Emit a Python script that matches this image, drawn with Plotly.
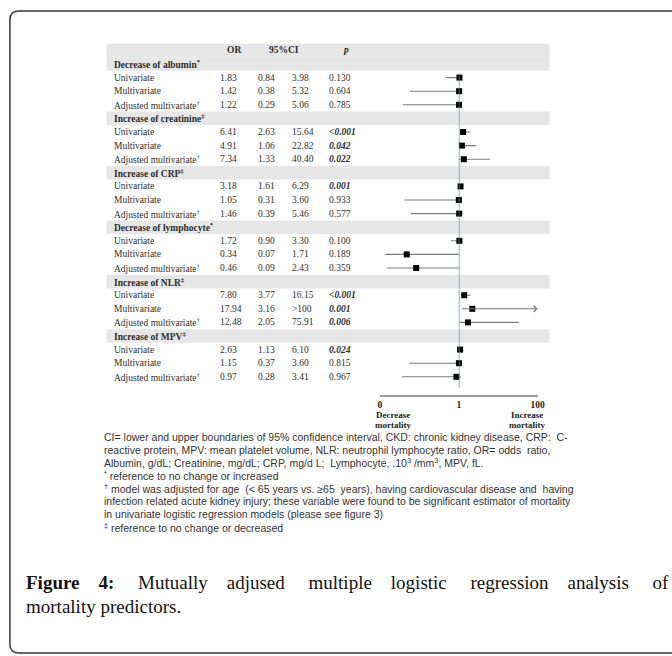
import plotly.graph_objects as go

# ---- data -----------------------------------------------------------------
groups = ["Decrease of albumin", "Increase of creatinine", "Increase of CRP",
          "Decrease of lymphocyte", "Increase of NLR", "Increase of MPV"]
group_marks = ["*", "‡", "‡", "*", "‡", "‡"]
models = ["Univariate", "Multivariate", "Adjusted multivariate"]
model_marks = ["", "", "†"]

odds_ratio = [1.83, 1.42, 1.22,
              6.41, 4.91, 7.34,
              3.18, 1.05, 1.46,
              1.72, 0.34, 0.46,
              7.80, 17.94, 12.48,
              2.63, 1.15, 0.97]
ci_low = [0.84, 0.38, 0.29,
          2.63, 1.06, 1.33,
          1.61, 0.31, 0.39,
          0.90, 0.07, 0.09,
          3.77, 3.16, 2.05,
          1.13, 0.37, 0.28]
ci_high = [3.98, 5.32, 5.06,
           15.64, 22.82, 40.40,
           6.29, 3.60, 5.46,
           3.30, 1.71, 2.43,
           16.15, None, 75.91,   # None = upper bound beyond 100
           6.10, 3.60, 3.41]
p_values = ["0.130", "0.604", "0.785",
            "<0.001", "0.042", "0.022",
            "0.001", "0.933", "0.577",
            "0.100", "0.189", "0.359",
            "<0.001", "0.001", "0.006",
            "0.024", "0.815", "0.967"]

axis_ticks = [0, 1, 100]
axis_ticktext = ["0", "1", "100"]

footnotes = [
    "CI= lower and upper boundaries of 95% confidence interval, CKD: chronic kidney disease, CRP: C-",
    "reactive protein, MPV: mean platelet volume, NLR: neutrophil lymphocyte ratio, OR= odds ratio,",
    "Albumin, g/dL; Creatinine, mg/dL; CRP, mg/d L;  Lymphocyte, .10<sup>3</sup> /mm<sup>3</sup>, MPV, fL.",
    "<sup>*</sup> reference to no change or increased",
    "<sup>†</sup> model was adjusted for age (&lt; 65 years vs. ≥65 years), having cardiovascular disease and having",
    "infection related acute kidney injury; these variable were found to be significant estimator of mortality",
    "in univariate logistic regression models (please see figure 3)",
    "<sup>‡</sup> reference to no change or decreased",
]
# extra non-breaking spaces spread over each line to imitate justified text
footnote_padding = [1, 1, 0, 0, 3, 0, 0, 0]

caption_lines = [
    "<b>Figure 4:</b> Mutually adjused multiple logistic regression analysis of",
    "mortality predictors.",
]
caption_padding = [28, 0]

# ---- layout helpers -------------------------------------------------------
W, H = 672, 656


def px(x):
    return x / W


def py(y):
    return 1 - y / H


def justify(text, extra):
    """Spread `extra` non-breaking spaces evenly over the word gaps."""
    if extra <= 0:
        return text
    words = text.split(" ")
    gaps = len(words) - 1
    out = words[0]
    for k in range(gaps):
        n = extra * (k + 1) // gaps - extra * k // gaps
        out += "\u00a0" * n + " " + words[k + 1]
    return out


ROW0, STEP = 50.4, 13.6          # pixel centre of header row, row pitch
TABLE_TOP, TABLE_BOTTOM = 43.6, 395.0
row_range = [(TABLE_BOTTOM - ROW0) / STEP, (TABLE_TOP - ROW0) / STEP]

COL_LABEL, COL_OR, COL_LO, COL_HI, COL_P = 111, 219, 257, 292, 329
TABLE_FONT = "Liberation Serif"
TXT = "#2e2e2e"

fig = go.Figure()
annotations = []
shapes = []


def cell(x, row, text, size=9.5, **kw):
    annotations.append(dict(x=px(x), xref="paper", y=row, yref="y", text=text,
                            showarrow=False, xanchor="left", yanchor="middle",
                            font=dict(family=TABLE_FONT, size=size, color=TXT), **kw))


def band(row):
    shapes.append(dict(type="rect", xref="paper", yref="y", x0=px(106), x1=px(555),
                       y0=row - 0.5, y1=row + 0.5, fillcolor="#e6e6e6",
                       line=dict(width=0), layer="below"))


# header row
band(0)
cell(226, 0, "<b>OR</b>")
cell(269, 0, "<b>95%CI</b>")
cell(344, 0, "<b><i>p</i></b>")

seg_left_x, seg_left_y = [], []
seg_right_x, seg_right_y = [], []
mk_left_x, mk_left_y, mk_right_x, mk_right_y = [], [], [], []

for g, name in enumerate(groups):
    grow = 1 + 4 * g
    band(grow)
    cell(COL_LABEL, grow, f"<b>{name}<sup>{group_marks[g]}</sup></b>")
    for m, model in enumerate(models):
        i = 3 * g + m
        row = grow + 1 + m
        orv, lo, hi, p = odds_ratio[i], ci_low[i], ci_high[i], p_values[i]
        cell(COL_LABEL, row, model + (f"<sup>{model_marks[m]}</sup>" if model_marks[m] else ""))
        cell(COL_OR, row, f"{orv:.2f}")
        cell(COL_LO, row, f"{lo:.2f}")
        cell(COL_HI, row, "&gt;100" if hi is None else f"{hi:.2f}")
        ptxt = p.replace("<", "&lt;")
        significant = float(p.lstrip("<")) < 0.05
        cell(COL_P, row, f"<b><i>{ptxt}</i></b>" if significant else ptxt)

        # confidence interval: left panel spans 0..1, right panel 1..100
        if lo < 1:
            seg_left_x += [lo, min(hi if hi is not None else 100, 1), None]
            seg_left_y += [row, row, None]
        if hi is None:
            annotations.append(dict(x=100, y=row, xref="x2", yref="y",
                                    ax=max(lo, 1), ay=row, axref="x2", ayref="y",
                                    showarrow=True, arrowhead=4, arrowsize=1.1,
                                    arrowwidth=1.1, arrowcolor="#7a7a7a", text=""))
        elif hi > 1:
            seg_right_x += [max(lo, 1), hi, None]
            seg_right_y += [row, row, None]
        if orv < 1:
            mk_left_x.append(orv)
            mk_left_y.append(row)
        else:
            mk_right_x.append(orv)
            mk_right_y.append(row)

ci_line = dict(color="#7a7a7a", width=1.1)
marker = dict(symbol="square", size=6, color="#000000")
fig.add_trace(go.Scatter(x=seg_left_x, y=seg_left_y, mode="lines", line=ci_line,
                         xaxis="x", yaxis="y", hoverinfo="skip", cliponaxis=False))
fig.add_trace(go.Scatter(x=seg_right_x, y=seg_right_y, mode="lines", line=ci_line,
                         xaxis="x2", yaxis="y", hoverinfo="skip", cliponaxis=False))
fig.add_trace(go.Scatter(x=mk_left_x, y=mk_left_y, mode="markers", marker=marker,
                         xaxis="x", yaxis="y", cliponaxis=False))
fig.add_trace(go.Scatter(x=mk_right_x, y=mk_right_y, mode="markers", marker=marker,
                         xaxis="x2", yaxis="y", cliponaxis=False))

# reference line at OR = 1
shapes.append(dict(type="line", xref="x2", yref="y", x0=1, x1=1,
                   y0=(73 - ROW0) / STEP, y1=(388 - ROW0) / STEP,
                   line=dict(color="#6f88a4", width=1.4), layer="above"))

# direction labels under the axis
for xc, word in [(396, "Decrease"), (532, "Increase")]:
    for yy, t in [(415, word), (424.5, "mortality")]:
        annotations.append(dict(x=px(xc), y=py(yy), xref="paper", yref="paper", text=t,
                                showarrow=False, xanchor="center", yanchor="middle",
                                font=dict(family=TABLE_FONT, size=9, color="#222",
                                          weight="bold")))

# footnotes
for k, line in enumerate(footnotes):
    annotations.append(dict(x=px(101), y=py(436.7 + 12.9 * k), xref="paper", yref="paper",
                            text=justify(line, footnote_padding[k]), showarrow=False,
                            xanchor="left", yanchor="middle",
                            font=dict(family="Liberation Sans Narrow, Liberation Sans, sans-serif",
                                      size=10.5, color="#333")))

# caption
for k, line in enumerate(caption_lines):
    annotations.append(dict(x=px(22), y=py(582 + 24 * k), xref="paper", yref="paper",
                            text=justify(line, caption_padding[k]), showarrow=False,
                            xanchor="left", yanchor="middle",
                            font=dict(family="Liberation Serif", size=19, color="#111")))

# rounded frame (right side runs off the page)
r = 9
shapes.append(dict(type="path", xref="paper", yref="paper",
                   path=(f"M {px(700)},{py(11)} L {px(8 + r)},{py(11)} "
                         f"Q {px(8)},{py(11)} {px(8)},{py(11 + r)} "
                         f"L {px(8)},{py(653 - r)} Q {px(8)},{py(653)} {px(8 + r)},{py(653)} "
                         f"L {px(700)},{py(653)}"),
                   line=dict(color="#3a3a3a", width=1.5)))

axis_common = dict(showgrid=False, zeroline=False, showline=True, linecolor="#9c9c9c",
                   linewidth=2, ticks="", anchor="y", fixedrange=True,
                   tickfont=dict(family=TABLE_FONT, size=9.5, color="#222", weight="bold"))
fig.update_layout(
    width=W, height=H, margin=dict(l=0, r=0, t=0, b=0),
    paper_bgcolor="white", plot_bgcolor="rgba(0,0,0,0)", showlegend=False,
    xaxis=dict(domain=[px(383), px(463)], range=[0, 1],
               tickvals=axis_ticks[:1], ticktext=axis_ticktext[:1], **axis_common),
    xaxis2=dict(domain=[px(463), px(543)], range=[1, 100],
                tickvals=axis_ticks[1:], ticktext=axis_ticktext[1:], **axis_common),
    yaxis=dict(domain=[py(TABLE_BOTTOM), py(TABLE_TOP)], range=row_range, visible=False,
               fixedrange=True),
    annotations=annotations, shapes=shapes,
)

fig.write_html("out.html")
